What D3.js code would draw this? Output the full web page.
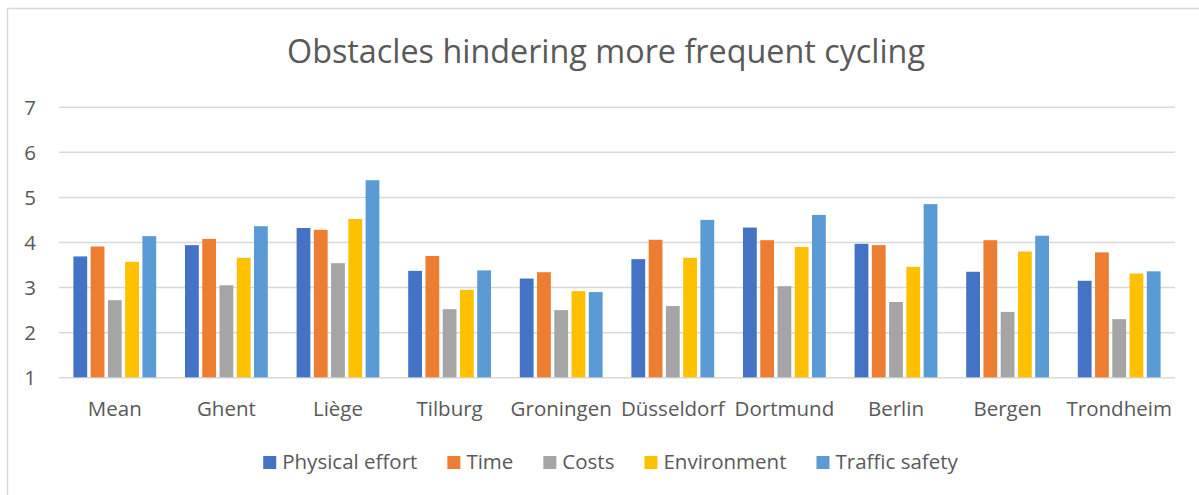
<!DOCTYPE html>
<html>
<head>
<meta charset="utf-8">
<script src="https://cdn.jsdelivr.net/npm/d3@7"></script>
<style>
  body { margin: 0; background: #fff; }
  svg text { font-family: "Open Sans", "Noto Sans", sans-serif; fill: #595959; }
</style>
</head>
<body>
<svg id="container"></svg>
<script>
const categories = ["Mean", "Ghent", "Liège", "Tilburg", "Groningen", "Düsseldorf", "Dortmund", "Berlin", "Bergen", "Trondheim"];
const seriesNames = ["Physical effort", "Time", "Costs", "Environment", "Traffic safety"];
const physicalEffort = [3.68, 3.93, 4.31, 3.36, 3.19, 3.62, 4.32, 3.96, 3.34, 3.14];
const time = [3.90, 4.07, 4.27, 3.69, 3.33, 4.05, 4.04, 3.93, 4.04, 3.77];
const costs = [2.71, 3.04, 3.53, 2.51, 2.49, 2.58, 3.02, 2.67, 2.45, 2.29];
const environment = [3.56, 3.65, 4.51, 2.94, 2.91, 3.65, 3.89, 3.45, 3.79, 3.30];
const trafficSafety = [4.13, 4.35, 5.37, 3.37, 2.89, 4.49, 4.60, 4.84, 4.14, 3.35];
const yTicks = [1, 2, 3, 4, 5, 6, 7];
const colors = ["#4472C4", "#ED7D31", "#A5A5A5", "#FFC000", "#5B9BD5"];

const seriesValues = [physicalEffort, time, costs, environment, trafficSafety];
const rows = categories.map((c, i) => ({
  cat: c,
  vals: seriesNames.map((s, j) => ({ key: s, value: seriesValues[j][i] }))
}));

const width = 1199, height = 495;
const svg = d3.select("#container").attr("width", width).attr("height", height);

// outer frame
svg.append("rect")
  .attr("x", 7.5).attr("y", 8.5)
  .attr("width", width).attr("height", height)
  .attr("fill", "none").attr("stroke", "#d9d9d9").attr("stroke-width", 1.5);

svg.append("text")
  .attr("x", 606).attr("y", 63)
  .attr("text-anchor", "middle")
  .attr("font-size", 32)
  .attr("textLength", 638).attr("lengthAdjust", "spacingAndGlyphs")
  .text("Obstacles hindering more frequent cycling");

const x0 = d3.scaleBand().domain(categories).range([59, 1175])
  .paddingInner(0.227).paddingOuter(0.1135);
const x1 = d3.scaleBand().domain(seriesNames).range([0, x0.bandwidth()])
  .paddingInner(0.2).paddingOuter(0.1);
const y = d3.scaleLinear().domain([1, 7]).range([377.3, 106.7]);

// gridlines
const grid = svg.append("g")
  .attr("transform", "translate(59,0)")
  .call(d3.axisLeft(y).tickValues(yTicks).tickSize(-1116).tickFormat(""));
grid.select(".domain").remove();
grid.selectAll("line").attr("stroke", "#d9d9d9").attr("stroke-width", 1.5);

// y labels
const yAxis = svg.append("g")
  .attr("transform", "translate(36,0)")
  .call(d3.axisLeft(y).tickValues(yTicks).tickSize(0).tickPadding(0).tickFormat(d3.format("d")));
yAxis.select(".domain").remove();
yAxis.selectAll("text")
  .attr("font-size", 20.5).attr("fill", "#595959")
  .attr("font-family", null).attr("dy", "0.36em");
yAxis.attr("font-family", null);

// bars
svg.append("g").selectAll("g")
  .data(rows).join("g")
  .attr("transform", d => `translate(${x0(d.cat)},0)`)
  .selectAll("rect")
  .data(d => d.vals).join("rect")
  .attr("x", d => x1(d.key))
  .attr("width", x1.bandwidth())
  .attr("y", d => y(d.value))
  .attr("height", d => y(1) - y(d.value))
  .attr("fill", (d, i) => colors[i]);

// x labels
const xAxis = svg.append("g")
  .attr("transform", "translate(0,378)")
  .call(d3.axisBottom(x0).tickSize(0).tickPadding(0));
xAxis.attr("font-family", null);
xAxis.select(".domain").remove();
xAxis.selectAll("text")
  .attr("font-size", 20.5).attr("fill", "#595959")
  .attr("dy", null).attr("y", 38);

// legend
const legend = svg.append("g");
let lx = 0;
const items = [];
seriesNames.forEach((s, i) => {
  const g = legend.append("g");
  g.append("rect").attr("x", 0).attr("y", 456).attr("width", 13).attr("height", 13).attr("fill", colors[i]);
  const t = g.append("text").attr("x", 19).attr("y", 469).attr("font-size", 20.5).text(s);
  const w = 19 + t.node().getComputedTextLength();
  g.attr("transform", `translate(${lx},0)`);
  lx += w + 30;
});
const totalW = lx - 30;
legend.attr("transform", `translate(${610.5 - totalW / 2},0)`);
</script>
</body>
</html>
